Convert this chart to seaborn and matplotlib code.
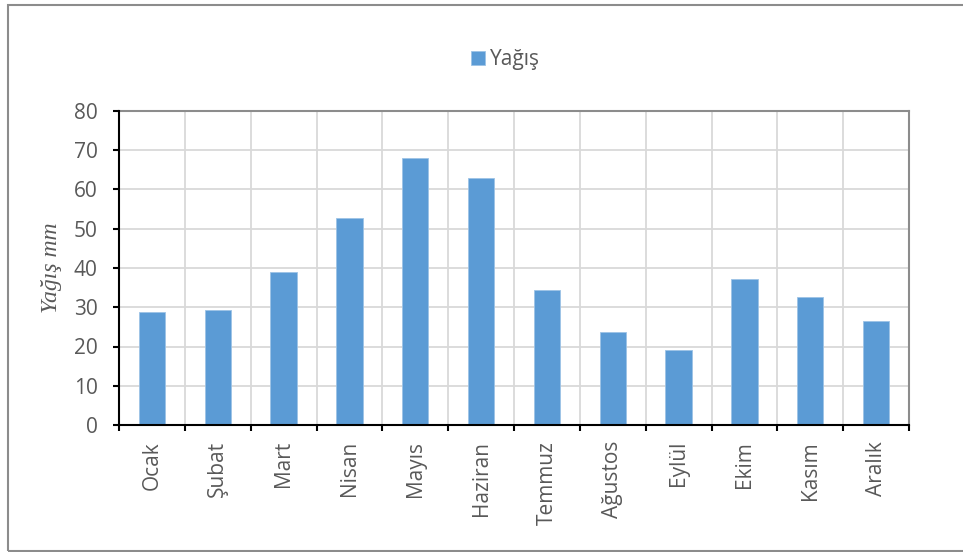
import matplotlib
matplotlib.use("Agg")
import matplotlib.pyplot as plt
from matplotlib.patches import Rectangle
import matplotlib.transforms as mtransforms
import seaborn as sns
import pandas as pd

months = ["Ocak", "Şubat", "Mart", "Nisan", "Mayıs", "Haziran",
          "Temmuz", "Ağustos", "Eylül", "Ekim", "Kasım", "Aralık"]
rain = [28.8, 29.4, 39.0, 52.8, 68.1, 62.9, 34.3, 23.7, 19.0, 37.2, 32.5, 26.5]
yticks = [0, 10, 20, 30, 40, 50, 60, 70, 80]
series_name = "Yağış"
ylabel = "Yağış mm"

sns.set_style("white")
plt.rcParams['font.family'] = ['Open Sans', 'DejaVu Sans']

FS = 15

df = pd.DataFrame({"Ay": months, "Yağış": rain})

fig = plt.figure(figsize=(9.63, 5.52), dpi=100)
ax = fig.add_axes([119/963, 1-425/552, (909-119)/963, (425-111)/552])

sns.barplot(data=df, x="Ay", y="Yağış", color="#5b9bd5", saturation=1,
            width=0.4, ax=ax, label=series_name, edgecolor="#9dc3e6", linewidth=0.6,
            zorder=3)

ax.set_xlim(-0.5, len(months) - 0.5)
ax.set_ylim(0, 80)
ax.set_yticks(yticks)
ax.set_yticklabels([str(v) for v in yticks])

bounds = [i - 0.5 for i in range(len(months) + 1)]
ax.set_xticks(bounds, minor=True)
ax.tick_params(axis='x', which='major', length=0, pad=11.5, labelrotation=90,
               labelsize=FS, labelcolor='#595959')
ax.tick_params(axis='x', which='minor', length=4.5, width=1.5, color='black',
               direction='out', bottom=True)
ax.tick_params(axis='y', which='major', length=4.5, width=1.5, color='black',
               direction='out', left=True, pad=11, labelsize=FS, labelcolor='#595959')
for lbl in ax.get_xticklabels():
    lbl.set_va('top')
    lbl.set_ha('center')

ax.grid(False)
ax.grid(True, axis='y', which='major', color='#d9d9d9', linewidth=1.3, zorder=0)
ax.grid(True, axis='x', which='minor', color='#d9d9d9', linewidth=1.3, zorder=0)
ax.set_axisbelow(True)

for side in ['left', 'bottom']:
    ax.spines[side].set_color('black')
    ax.spines[side].set_linewidth(1.5)
for side in ['top', 'right']:
    ax.spines[side].set_visible(True)
    ax.spines[side].set_color('#8c8c8c')
    ax.spines[side].set_linewidth(1.5)
ax.spines['left'].set_zorder(5)
ax.spines['bottom'].set_zorder(5)

ax.set_xlabel("")
ax.set_ylabel(ylabel, family=['Liberation Serif', 'DejaVu Serif'], style='italic',
              fontsize=17, color='#595959')
ax.yaxis.label.set_transform(mtransforms.blended_transform_factory(fig.transFigure, ax.transAxes))
ax.yaxis.label.set_position((52/963, 0.5))
ax.yaxis.label.set_va('center')
ax.yaxis.label.set_ha('center')
ax.yaxis.set_label_coords(52/963, 0.5, transform=mtransforms.blended_transform_factory(fig.transFigure, ax.transAxes))

if ax.get_legend() is not None:
    ax.get_legend().remove()
handles, labels = ax.get_legend_handles_labels()
fig.legend(handles[:1], labels[:1], loc='center', bbox_to_anchor=(505.5/963, 1-60/552),
           frameon=False, fontsize=FS, handlelength=0.67, handleheight=0.67,
           handletextpad=0.25, labelcolor='#595959', borderpad=0, borderaxespad=0)

fig.patches.append(Rectangle((8/963, 1.5/552), 1.0, 1-6/552, transform=fig.transFigure,
                             fill=False, edgecolor='#8c8c8c', linewidth=1.5))

fig.savefig("out.png", dpi=100)
